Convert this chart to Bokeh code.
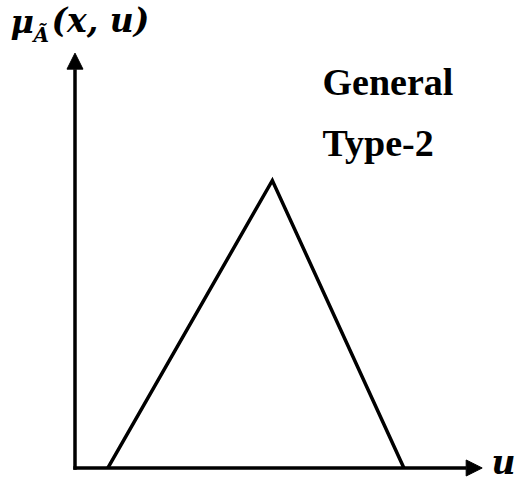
from bokeh.plotting import figure
from bokeh.models import Range1d, Arrow, NormalHead, Label, ColumnDataSource
from bokeh.embed import file_html
from bokeh.resources import INLINE

# Membership function (general type-2 secondary MF), triangular
u_vals = [0.1, 0.6, 1.0]
mu_vals = [0.0, 1.0, 0.0]

# Axis extents (in data units)
u_axis_end = 1.238
mu_axis_end = 1.443

title_lines = ["General", "Type-2"]
x_label = "u"

W, H = 520, 485
p = figure(width=W, height=H, output_backend="svg", toolbar_location=None,
           x_range=Range1d(-0.2265, 1.3545), y_range=Range1d(-0.0609, 1.6261),
           min_border=0, min_border_left=0, min_border_right=0,
           min_border_top=0, min_border_bottom=0)
p.xaxis.visible = False
p.yaxis.visible = False
p.grid.visible = False
p.outline_line_color = None
p.background_fill_color = "white"
p.border_fill_color = "white"

src = ColumnDataSource(dict(u=u_vals, mu=mu_vals))
p.line("u", "mu", source=src, line_color="black", line_width=3.5, line_join="miter")

# axes with arrows
p.add_layout(Arrow(x_start=-0.005, y_start=0, x_end=u_axis_end, y_end=0,
                   line_color="black", line_width=3.5,
                   end=NormalHead(size=16, fill_color="black", line_color="black", line_width=1)))
p.add_layout(Arrow(x_start=0, y_start=-0.006, x_end=0, y_end=mu_axis_end,
                   line_color="black", line_width=3.5,
                   end=NormalHead(size=16, fill_color="black", line_color="black", line_width=1)))

# texts (screen units, y from bottom of canvas)
def lab(x, y, text, font, style, size):
    p.add_layout(Label(x=x, y=y, x_units="screen", y_units="screen", text=text,
                       text_font=font, text_font_style=style, text_font_size=size,
                       text_color="black", text_baseline="alphabetic"))

lab(322, 404, title_lines[0], "Liberation Serif", "bold", "38px")
lab(322, 343, title_lines[1], "Liberation Serif", "bold", "38px")

lab(491, 23, x_label, "DejaVu Serif", "bold italic", "33px")

lab(10, 464, "\u03bc", "DejaVu Serif", "bold italic", "32px")
lab(33, 451, "\u00c3", "DejaVu Serif", "bold italic", "20px")
lab(51, 465, "(x, u)", "DejaVu Serif", "bold italic", "33px")

open("out.html", "w").write(file_html(p, INLINE))
